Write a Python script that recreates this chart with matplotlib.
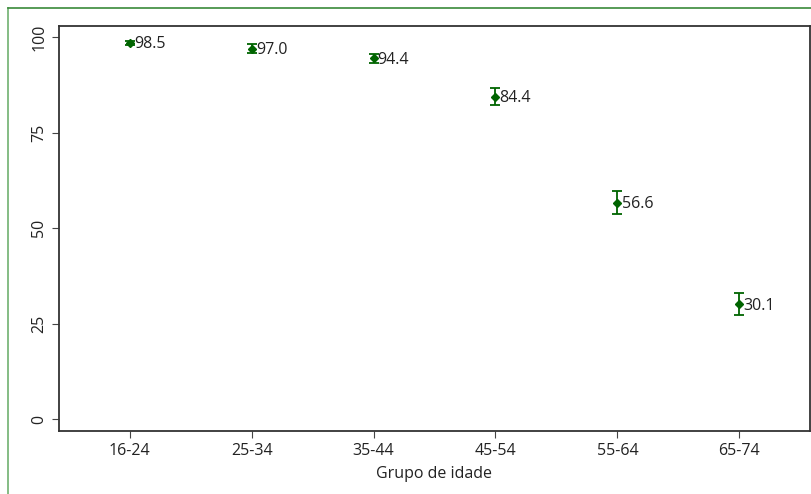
import matplotlib.pyplot as plt
from matplotlib.lines import Line2D

plt.rcParams['font.family'] = ['Open Sans', 'DejaVu Sans']

grupos = ['16-24', '25-34', '35-44', '45-54', '55-64', '65-74']
valores = [98.5, 97.0, 94.4, 84.4, 56.6, 30.1]
erros = [0.5, 1.2, 1.3, 2.2, 3.0, 2.8]

verde = '#006400'
fig = plt.figure(figsize=(8.12, 4.94), dpi=100, facecolor='white')
ax = fig.add_axes([59 / 812, 1 - 431 / 494, (810 - 59) / 812, (431 - 26) / 494])

x = list(range(len(grupos)))
ax.errorbar(x, valores, yerr=erros, fmt='D', color=verde, ecolor=verde,
            markersize=4.5, capsize=3.5, elinewidth=1.3, capthick=1.3)
for xi, v in zip(x, valores):
    ax.annotate(f'{v:.1f}', (xi, v), xytext=(3, -1), textcoords='offset points',
                va='center', ha='left', fontsize=11.5, color='#222222')

ax.set_xlim(-0.58, 5.58)
ax.set_ylim(-3.1, 102.9)
ax.set_xticks(x)
ax.set_xticklabels(grupos, fontsize=11.5, color='#222222')
ax.set_yticks([0, 25, 50, 75, 100])
ax.set_yticklabels(['0', '25', '50', '75', '100'], rotation=90, va='center',
                   fontsize=11.5, color='#222222')
ax.tick_params(length=5, color='#444444')
ax.set_xlabel('Grupo de idade', fontsize=11.5, color='#222222', labelpad=5)
for s in ax.spines.values():
    s.set_color('#333333')
    s.set_linewidth(1.3)

# moldura verde do recorte
fig.add_artist(Line2D([8.5 / 812, 8.5 / 812], [0, 1 - 8.5 / 494],
                      transform=fig.transFigure, color='#70b070', lw=1.2))
fig.add_artist(Line2D([8.5 / 812, 1], [1 - 8.5 / 494, 1 - 8.5 / 494],
                      transform=fig.transFigure, color='#3a8a3a', lw=1.2))

fig.savefig('out.png', dpi=100, facecolor='white')
